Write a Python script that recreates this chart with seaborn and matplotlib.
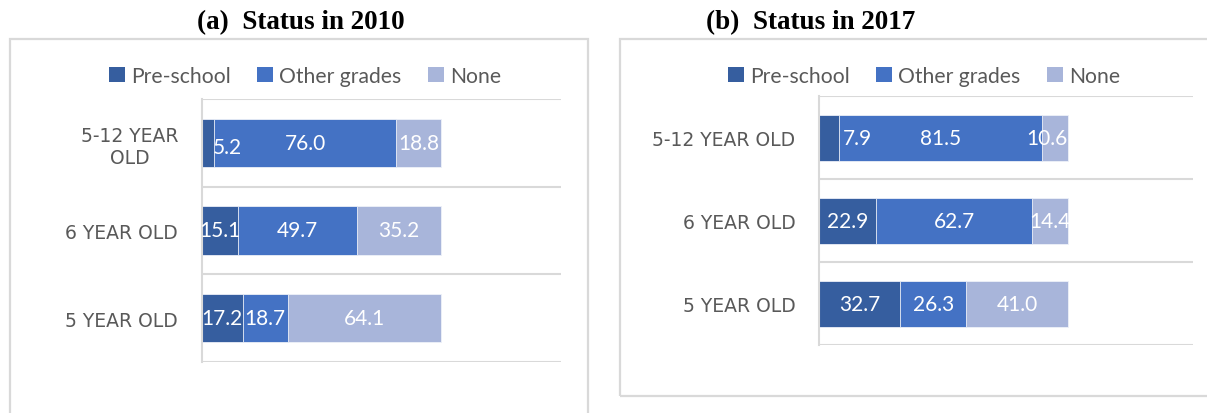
import matplotlib
matplotlib.use("Agg")
import matplotlib.pyplot as plt
from matplotlib.patches import Rectangle, Patch
import seaborn as sns
import numpy as np

# ---- data ----
categories_2010 = ["5-12 YEAR\nOLD", "6 YEAR OLD", "5 YEAR OLD"]
categories_2017 = ["5-12 YEAR OLD", "6 YEAR OLD", "5 YEAR OLD"]
series_names = ["Pre-school", "Other grades", "None"]
preschool_2010 = [5.2, 15.1, 17.2]
other_2010 = [76.0, 49.7, 18.7]
none_2010 = [18.8, 35.2, 64.1]
preschool_2017 = [7.9, 22.9, 32.7]
other_2017 = [81.5, 62.7, 26.3]
none_2017 = [10.6, 14.4, 41.0]
titles = ["(a)  Status in 2010", "(b)  Status in 2017"]

# ---- style ----
colors = ["#365E9F", "#4472C4", "#A8B5DA"]
grid_col = "#D9D9D9"
text_col = "#595959"
W, H = 1207, 414

sns.set_theme(style="white")
plt.rcParams["font.family"] = ["DejaVu Sans"]

fig = plt.figure(figsize=(W / 100, H / 100), dpi=100)

def fx(px):
    return px / W

def fy(py):
    return 1 - py / H

# panel layout in pixels: (left, right, top, bottom)
layouts = [(201.7, 560.7, 100, 363), (819, 1192.5, 97.3, 346)]
# manual label nudges (category index, series index) -> (dx data units, dy category units)
label_offsets = [{(0, 0): (8.0, 0.05)}, {(0, 0): (11.3, 0.0), (0, 2): (-3.0, 0.0)}]
panels = [
    (categories_2010, [preschool_2010, other_2010, none_2010]),
    (categories_2017, [preschool_2017, other_2017, none_2017]),
]

for p, ((cats, series), (l, r, t, b)) in enumerate(zip(panels, layouts)):
    ax = fig.add_axes([fx(l), fy(b), fx(r - l), (b - t) / H])
    vals = [np.array(s, dtype=float) for s in series]
    cum = np.cumsum(vals, axis=0)
    # draw from the total down so earlier series overlay later ones
    for k in range(len(vals) - 1, -1, -1):
        sns.barplot(x=cum[k], y=cats, orient="h", color=colors[k], width=0.555,
                    edgecolor="#EEF1F8", linewidth=0.6, saturation=1, ax=ax)
    # data labels
    for k in range(len(vals)):
        for i in range(len(cats)):
            left = cum[k][i] - vals[k][i]
            dx, dy = label_offsets[p].get((i, k), (0.0, 0.0))
            ax.text(left + vals[k][i] / 2 + dx, i + dy, f"{vals[k][i]:.1f}",
                    ha="center", va="center", color="white", fontsize=15,
                    family=["Lato", "DejaVu Sans"])
    ax.set_xlim(0, 150)
    ax.set_ylim(len(cats) - 0.5, -0.5)
    ax.set_xlabel("")
    ax.set_ylabel("")
    ax.set_xticks([])
    ax.set_yticks(np.arange(-0.5, len(cats), 1.0), minor=True)
    ax.grid(axis="y", which="minor", color=grid_col, linewidth=1.5)
    ax.grid(axis="y", which="major", visible=False)
    ax.tick_params(axis="y", which="both", length=0, pad=17, labelcolor=text_col)
    for lbl in ax.get_yticklabels():
        lbl.set_multialignment("center")
        lbl.set_fontfamily(["DejaVu Sans"])
        lbl.set_fontsize(13.5)
    for side in ["top", "right", "bottom"]:
        ax.spines[side].set_visible(False)
    ax.spines["left"].set_color(grid_col)
    ax.spines["left"].set_linewidth(1.5)
    ax.set_facecolor("none")

# frames around each chart
fig.add_artist(Rectangle((fx(10), fy(440)), fx(578), (440 - 39.5) / H,
                         transform=fig.transFigure, fill=False,
                         edgecolor=grid_col, linewidth=1.6))
fig.add_artist(Rectangle((fx(620), fy(397)), fx(620), (397 - 39.5) / H,
                         transform=fig.transFigure, fill=False,
                         edgecolor=grid_col, linewidth=1.6))

# titles
for xc, title in zip([301, 811], titles):
    fig.text(fx(xc), fy(23), title, ha="center", va="center", fontsize=19.5,
             fontweight="bold", family=["Liberation Serif", "DejaVu Serif"],
             color="black")

# legends
handles = [Patch(facecolor=c, edgecolor="none") for c in colors]
for xc in [305, 924]:
    fig.legend(handles, series_names, loc="center", bbox_to_anchor=(fx(xc), fy(77)),
               ncol=3, frameon=False, handlelength=0.75, handleheight=0.75,
               handletextpad=0.3, columnspacing=1.25,
               prop={"family": ["Lato", "DejaVu Sans"], "size": 15.2},
               labelcolor=text_col)

fig.savefig("out.png", dpi=100)
